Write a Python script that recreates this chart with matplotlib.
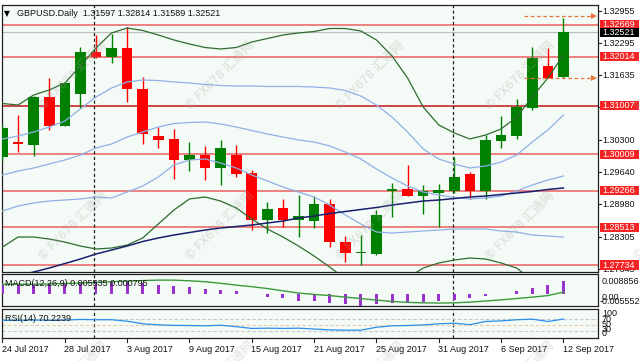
import matplotlib
matplotlib.use("Agg")
import matplotlib.pyplot as plt
import matplotlib.transforms as mtrans
from matplotlib.patches import Rectangle

# ---------------- data ----------------
date_labels = ['24 Jul 2017', '28 Jul 2017', '3 Aug 2017', '9 Aug 2017', '15 Aug 2017',
               '21 Aug 2017', '25 Aug 2017', '31 Aug 2017', '6 Sep 2017', '12 Sep 2017']
date_label_idx = [0, 4, 8, 12, 16, 20, 24, 28, 32, 36]
separator_idx = [6, 29]   # 1 Aug, 1 Sep

opens = [1.29955, 1.30257, 1.30202, 1.31183, 1.30599, 1.31244, 1.32120, 1.32005, 1.32202, 1.31347,
         1.30387, 1.30325, 1.29893, 1.29996, 1.29735, 1.29996, 1.29632, 1.28660, 1.28900, 1.28660,
         1.28639, 1.28983, 1.28214, 1.27981, 1.27961, 1.29266, 1.29291, 1.29153, 1.29221, 1.29262,
         1.29606, 1.29256, 1.30290, 1.30387, 1.30969, 1.31826, 1.31597]
highs = [1.30613, 1.30819, 1.31209, 1.31579, 1.31497, 1.32223, 1.32463, 1.32484, 1.32634, 1.31606,
         1.30578, 1.30525, 1.30257, 1.30187, 1.30305, 1.30202, 1.29688, 1.29036, 1.29092, 1.29174,
         1.29153, 1.29092, 1.28331, 1.28352, 1.28866, 1.29414, 1.29791, 1.29379, 1.29400, 1.29955,
         1.29653, 1.30407, 1.30804, 1.31141, 1.32223, 1.32190, 1.32814]
lows = [1.29873, 1.30058, 1.29976, 1.30510, 1.30592, 1.30963, 1.31991, 1.31888, 1.31092, 1.30216,
        1.30134, 1.29503, 1.29667, 1.29482, 1.29379, 1.29550, 1.28454, 1.28399, 1.28510, 1.28317,
        1.28489, 1.28099, 1.27802, 1.27735, 1.27940, 1.28715, 1.29153, 1.28783, 1.28522, 1.29215,
        1.29092, 1.29085, 1.30134, 1.30319, 1.30922, 1.31573, 1.31589]
closes = [1.30551, 1.30216, 1.31195, 1.30599, 1.31470, 1.32120, 1.32005, 1.32202, 1.31347, 1.30422,
          1.30305, 1.29893, 1.29996, 1.29735, 1.30146, 1.29606, 1.28660, 1.28880, 1.28660, 1.28742,
          1.28983, 1.28214, 1.27975, 1.28002, 1.28763, 1.29287, 1.29153, 1.29256, 1.29277, 1.29550,
          1.29262, 1.30305, 1.30407, 1.30989, 1.31997, 1.31573, 1.32521]

bb_upper = [1.31055, 1.31024, 1.31230, 1.31333, 1.31477, 1.31826, 1.32196, 1.32505, 1.32607, 1.32556,
            1.32463, 1.32361, 1.32278, 1.32206, 1.32176, 1.32206, 1.32319, 1.32391, 1.32463, 1.32505,
            1.32535, 1.32597, 1.32597, 1.32546, 1.32361, 1.32032, 1.31579, 1.30983, 1.30613, 1.30449,
            1.30325, 1.30407, 1.30531, 1.30777, 1.31189, 1.31579, 1.32052]
bb_mid = [1.29585, 1.29667, 1.29729, 1.29811, 1.29893, 1.29996, 1.30140, 1.30222, 1.30366, 1.30469,
          1.30572, 1.30644, 1.30664, 1.30675, 1.30634, 1.30572, 1.30500, 1.30428, 1.30366, 1.30305,
          1.30263, 1.30181, 1.30058, 1.29914, 1.29708, 1.29523, 1.29359, 1.29235, 1.29174, 1.29122,
          1.29092, 1.29112, 1.29153, 1.29256, 1.29379, 1.29482, 1.29564]
bb_lower = [1.28105, 1.28310, 1.28310, 1.28269, 1.28207, 1.28125, 1.28064, 1.28084, 1.28146, 1.28290,
            1.28578, 1.28865, 1.29092, 1.29133, 1.29050, 1.28907, 1.28680, 1.28475, 1.28310, 1.28125,
            1.27920, 1.27693, 1.27447, 1.27221, 1.27097, 1.27262, 1.27467, 1.27673, 1.27776, 1.27837,
            1.27879, 1.27858, 1.27776, 1.27673, 1.27426, 1.27221, 1.27056]
bb1_upper = [1.30325, 1.30387, 1.30469, 1.30572, 1.30695, 1.30942, 1.31189, 1.31374, 1.31497, 1.31538,
             1.31528, 1.31497, 1.31477, 1.31446, 1.31425, 1.31415, 1.31415, 1.31405, 1.31405, 1.31405,
             1.31394, 1.31374, 1.31322, 1.31209, 1.31024, 1.30777, 1.30469, 1.30120, 1.29914, 1.29811,
             1.29729, 1.29770, 1.29852, 1.29996, 1.30263, 1.30510, 1.30819]
bb1_lower = [1.28845, 1.28948, 1.29009, 1.29050, 1.29071, 1.29092, 1.29133, 1.29112, 1.29235, 1.29359,
             1.29544, 1.29791, 1.29893, 1.29914, 1.29832, 1.29729, 1.29585, 1.29462, 1.29338, 1.29235,
             1.29133, 1.28968, 1.28763, 1.28578, 1.28413, 1.28393, 1.28413, 1.28434, 1.28454, 1.28475,
             1.28475, 1.28475, 1.28434, 1.28413, 1.28351, 1.28331, 1.28310]
ma_slow = [1.27426, 1.27508, 1.27591, 1.27673, 1.27765, 1.27858, 1.27961, 1.28043, 1.28125, 1.28218,
           1.28290, 1.28351, 1.28403, 1.28454, 1.28495, 1.28526, 1.28557, 1.28598, 1.28639, 1.28701,
           1.28742, 1.28793, 1.28835, 1.28876, 1.28917, 1.28968, 1.29009, 1.29050, 1.29071, 1.29102,
           1.29133, 1.29153, 1.29184, 1.29215, 1.29246, 1.29287, 1.29318]

macd_main = [0.0042, 0.0043, 0.0046, 0.0047, 0.0049, 0.0054, 0.0057, 0.0058, 0.0055, 0.0048,
             0.0038, 0.0034, 0.0029, 0.0022, 0.0018, 0.0012, 0.0001, -0.0012, -0.0019, -0.0029,
             -0.0032, -0.0038, -0.0045, -0.0055, -0.0046, -0.0041, -0.0037, -0.0034, -0.0031, -0.0025,
             -0.0019, -0.0009, -0.0001, 0.0012, 0.0026, 0.0041, 0.005535]
macd_signal = [0.0042, 0.0043, 0.0043, 0.0044, 0.0046, 0.0048, 0.0051, 0.0054, 0.0057, 0.0059,
               0.0061, 0.0061, 0.0058, 0.0054, 0.0047, 0.0039, 0.0032, 0.0024, 0.0014, 0.0004,
               -0.0002, -0.0007, -0.0014, -0.0020, -0.0027, -0.0033, -0.0037, -0.0039, -0.0040, -0.0039,
               -0.0036, -0.0031, -0.0026, -0.0020, -0.0014, -0.0007, 0.000795]
rsi = [66, 66, 67, 66, 67, 69, 68, 68, 63, 54,
       50.5, 48.5, 48, 47, 49, 44, 38, 39, 38, 39,
       36, 33, 32, 32, 42, 47, 48, 50, 54, 56,
       51, 62, 64, 68, 70, 62, 70.2239]

levels = [1.32669, 1.32014, 1.31007, 1.30009, 1.29266, 1.28513, 1.27734]
level_labels = ['1.32669', '1.32014', '1.31007', '1.30009', '1.29266', '1.28513', '1.27734']
price_ticks = [1.32955, 1.32295, 1.31635, 1.30975, 1.30300, 1.29640, 1.28980, 1.28305, 1.27645]
price_tick_labels = ['1.32955', '1.32295', '1.31635', '1.30975', '1.30300', '1.29640',
                     '1.28980', '1.28305', '1.27645']
last_price = 1.32521
arrow_levels = [1.32860, 1.31573]
rsi_levels = [70, 50, 30]

title_main = 'GBPUSD.Daily  1.31597 1.32814 1.31589 1.32521'
title_macd = 'MACD(12,26,9) 0.005535 0.000795'
title_rsi = 'RSI(14) 70.2239'

# ---------------- figure ----------------
plt.rcParams['font.family'] = ['Liberation Sans', 'DejaVu Sans']
FS = 6.5
W, H = 640, 361
fig = plt.figure(figsize=(6.4, 3.61), dpi=100)
fig.patch.set_facecolor('white')


def fx(px):
    return px / W


def fy(py):
    return 1 - py / H


BG = '#f4fbf6'
L, R = 1.5, 598
ax = fig.add_axes([fx(L), fy(272), fx(R) - fx(L), fy(5) - fy(272)])
axm = fig.add_axes([fx(L), fy(306), fx(R) - fx(L), fy(274) - fy(306)])
axr = fig.add_axes([fx(L), fy(338), fx(R) - fx(L), fy(309) - fy(338)])

n = len(closes)
xs = list(range(n))
xlim = (-0.064, 38.22)
for a in (ax, axm, axr):
    a.set_facecolor(BG)
    a.set_xlim(*xlim)
    a.set_xticks([])
    a.set_yticks([])
    for s in a.spines.values():
        s.set_color('#202020')
        s.set_linewidth(0.9)

ymin, ymax = 1.27591, 1.33080
ax.set_ylim(ymin, ymax)
k = (ymax - ymin) / 267.0  # price per pixel

# horizontal support/resistance lines
for lv in levels:
    col = '#c62828' if abs(lv - 1.31007) < 1e-6 else '#ec6b6b'
    ax.axhline(lv, color=col, lw=1.2, zorder=1)
ax.axhline(last_price, color='#bdbdbd', lw=0.9, zorder=1)

# period separators
for a in (ax, axm, axr):
    for si in separator_idx:
        a.axvline(si - 0.1, color='#202020', lw=0.9, ls=(0, (2.5, 2)), zorder=2)

# candles
up_c, dn_c = '#008000', '#ff0000'
for i in xs:
    o, h, l, c = opens[i], highs[i], lows[i], closes[i]
    col = up_c if c >= o else dn_c
    ax.vlines(i, l, h, color=col, lw=1.0, zorder=3)
    bot = min(o, c)
    ht = max(abs(c - o), 1.2 * k)
    ax.bar(i, ht, bottom=bot, width=0.68, color=col, edgecolor='none', zorder=4)

# indicator lines
ax.plot(xs, bb_upper, color='#2f6b2f', lw=0.9, zorder=5)
ax.plot(xs, bb_lower, color='#2f6b2f', lw=0.9, zorder=5)
ax.plot(xs, bb_mid, color='#8fb0e6', lw=0.9, zorder=5)
ax.plot(xs, bb1_upper, color='#8fb0e6', lw=0.9, zorder=5)
ax.plot(xs, bb1_lower, color='#8fb0e6', lw=0.9, zorder=5)
ax.plot(xs, ma_slow, color='#1a1f6e', lw=1.1, zorder=5)

# dashed arrows
for al in arrow_levels:
    ax.plot([33.5, 37.95], [al, al], color='#e8743b', lw=0.9, ls=(0, (3, 2)), zorder=6,
            clip_on=False)
    ax.plot([37.95], [al], marker='>', ms=4, color='#e8743b', zorder=6, clip_on=False,
            markeredgewidth=0)

# title
fig.text(fx(4), fy(14), '▼', fontsize=5.5, va='center', ha='left', family=['DejaVu Sans'])
fig.text(fx(17), fy(14), title_main, fontsize=FS, va='center', ha='left', color='#111111')

# right price scale
trans = mtrans.blended_transform_factory(fig.transFigure, ax.transData)
for tv, tl in zip(price_ticks, price_tick_labels):
    ax.text(fx(602), tv, tl, transform=trans, fontsize=FS, va='center', ha='left',
            clip_on=False, zorder=7, color='#111111')
    ax.plot([fx(598), fx(601)], [tv, tv], transform=trans, color='#202020', lw=0.8,
            clip_on=False)
for lv, ll in zip(levels, level_labels):
    ax.add_patch(Rectangle((fx(600), lv - 4.6 * k), fx(639) - fx(600), 9.2 * k, transform=trans,
                           facecolor='#f52424', edgecolor='none', clip_on=False, zorder=8))
    ax.text(fx(602), lv, ll, transform=trans, fontsize=FS, va='center', ha='left',
            color='white', clip_on=False, zorder=9)
ax.add_patch(Rectangle((fx(600), last_price - 4.6 * k), fx(639) - fx(600), 9.2 * k,
                       transform=trans, facecolor='#000000', edgecolor='none', clip_on=False,
                       zorder=8))
ax.text(fx(602), last_price, '1.32521', transform=trans, fontsize=FS, va='center', ha='left',
        color='white', clip_on=False, zorder=9)

# MACD
axm.set_ylim(-0.0053, 0.0088)
axm.bar(xs, macd_main, width=0.19, color='#9932cc', edgecolor='none', zorder=3)
axm.plot(xs, macd_signal, color='#3a9a3a', lw=1.0, zorder=4)
fig.text(fx(5), fy(283), title_macd, fontsize=FS, va='center', ha='left', color='#111111')
fig.text(fx(602), fy(281), '0.008856', fontsize=FS, va='center', ha='left', color='#111111')
fig.text(fx(602), fy(298), '0.00', fontsize=FS, va='center', ha='left', color='#111111')
fig.text(fx(600), fy(302), '-0.005552', fontsize=FS, va='center', ha='left', color='#111111')

# RSI
axr.set_ylim(5, 105)
for rl in rsi_levels:
    col = '#e9c9a9' if rl == 50 else '#c4c8cc'
    axr.axhline(rl, color=col, lw=0.8, ls=(0, (3, 2)), zorder=2)
axr.plot(xs, rsi, color='#2a8ee8', lw=0.9, zorder=4)
fig.text(fx(5), fy(318.5), title_rsi, fontsize=FS, va='center', ha='left', color='#111111')
for lab, py in [('100', 314), ('70', 319.5), ('50', 324.5), ('30', 329.5), ('0', 334)]:
    fig.text(fx(602), fy(py), lab, fontsize=FS, va='center', ha='left', color='#111111')

# date axis
dtrans = mtrans.blended_transform_factory(axr.transData, fig.transFigure)
for di, dl in zip(date_label_idx, date_labels):
    axr.plot([di, di], [fy(338), fy(341.5)], transform=dtrans, color='#202020', lw=0.8,
             clip_on=False)
    axr.text(di - 0.03, fy(349), dl, transform=dtrans, fontsize=FS, va='center', ha='left',
             clip_on=False, color='#111111')

# watermark
for cy in (75, 225, 375):
    for cx in (73, 220, 370, 520, 668):
        fig.text(fx(cx), fy(cy), '© FX678 汇通网', rotation=45, ha='center', va='center',
                 fontsize=9, fontweight='bold', color='#a0a6a0', alpha=0.25,
                 family=['Noto Sans CJK SC', 'DejaVu Sans'], zorder=20)

fig.savefig('out.png', dpi=100, facecolor='white')
